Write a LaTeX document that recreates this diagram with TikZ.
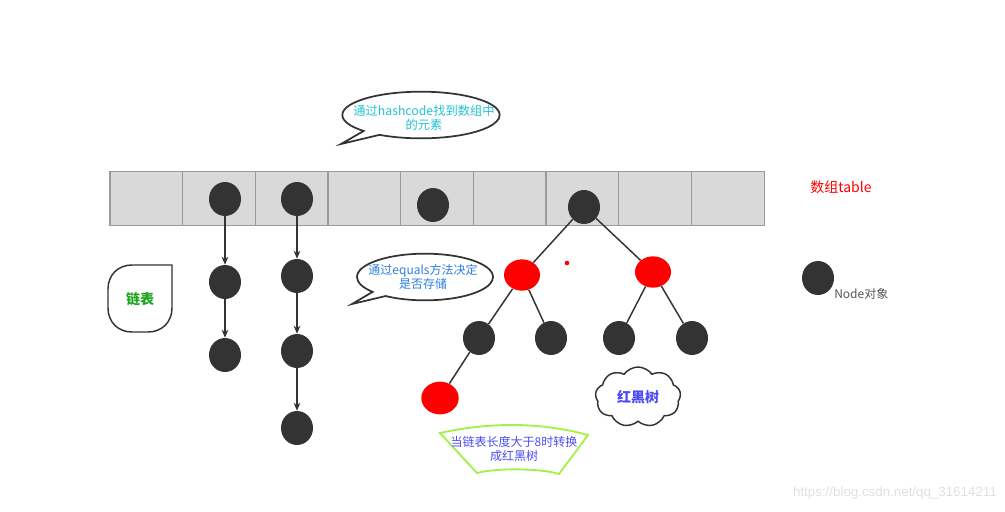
\documentclass[tikz,border=0pt]{standalone}
\usepackage{fontspec}
\newfontfamily\cjk{Noto Sans CJK SC}
\newfontfamily\wm{Liberation Sans}
\usetikzlibrary{shapes.geometric,shapes.callouts,shapes.symbols,arrows.meta}
\definecolor{ndgray}{HTML}{333333}
\definecolor{cellfill}{HTML}{D9D9D9}
\definecolor{cellline}{HTML}{9A9A9A}
\definecolor{cyantxt}{HTML}{22C3D2}
\definecolor{bluetxt}{HTML}{2F80E0}
\definecolor{greentxt}{HTML}{1FA51F}
\definecolor{violettxt}{HTML}{4B4BF5}
\definecolor{fangreen}{HTML}{A6F04A}
\definecolor{legtxt}{HTML}{555555}
\tikzset{
  blk/.style={ellipse, fill=ndgray, minimum width=24pt, minimum height=25.5pt, inner sep=0pt},
  rednd/.style={ellipse, fill=red, minimum width=27pt, minimum height=23.5pt, inner sep=0pt},
  cell/.style={rectangle, draw=cellline, fill=cellfill, line width=0.8pt, minimum width=54.5pt, minimum height=41pt, inner sep=0pt},
  chain/.style={draw=ndgray, line width=1.1pt, -{Stealth[length=6pt,width=5pt]}},
  edge/.style={draw=ndgray, line width=1.1pt},
  bubble/.style={ellipse callout, draw=ndgray, line width=1.3pt, fill=white, inner sep=0pt},
  btext/.style={font=\cjk\fontsize{9.2}{10.5}\selectfont, align=center, inner sep=0pt},
}
\begin{document}
\begin{tikzpicture}[x=0.75pt,y=-0.75pt]
\useasboundingbox (0,0) rectangle (1005,511);
% array
\foreach \i in {0,...,8}{
  \node[cell] (c\i) at ({110+72.67*\i+36.33},198.5) {};
}
% nodes in array
\node[blk] (a1) at (225,199) {};
\node[blk] (a2) at (297,199) {};
\node[blk] (a3) at (433,205) {};
\node[blk] (root) at (584,207) {};
% chain 1
\node[blk] (b1) at (225,282) {};
\node[blk] (b2) at (225,355) {};
% chain 2
\node[blk] (d1) at (297,276) {};
\node[blk] (d2) at (297,351) {};
\node[blk] (d3) at (297,428) {};
\draw[chain] (a1) -- (b1);
\draw[chain] (b1) -- (b2);
\draw[chain] (a2) -- (d1);
\draw[chain] (d1) -- (d2);
\draw[chain] (d2) -- (d3);
% tree
\node[rednd] (rl) at (522,275) {};
\node[rednd] (rr) at (653,272) {};
\node[blk] (t1) at (479,338) {};
\node[blk] (t2) at (551,338) {};
\node[blk] (t3) at (619,338) {};
\node[blk] (t4) at (692,338) {};
\node[rednd, minimum width=28pt, minimum height=24.5pt] (rb) at (440,398) {};
\draw[edge] (root) -- (rl);
\draw[edge] (root) -- (rr);
\draw[edge] (rl) -- (t1);
\draw[edge] (rl) -- (t2);
\draw[edge] (rr) -- (t3);
\draw[edge] (rr) -- (t4);
\draw[edge] (t1) -- (rb);
\node[circle, fill=red, inner sep=0pt, minimum size=3.5pt] (dot) at (567,263) {};
% bubbles
\coordinate (p1) at (341,144);
\node[bubble, minimum width=118pt, minimum height=35pt, callout absolute pointer={(p1)}] (bub1) at (421,115) {};
\node[btext, text=cyantxt] (bub1t) at (424,118) {通过hashcode找到数组中\\的元素};
\coordinate (p2) at (352,304);
\node[bubble, minimum width=102pt, minimum height=35pt, callout absolute pointer={(p2)}] (bub2) at (425,277) {};
\node[btext, font=\cjk\fontsize{9}{10.5}\selectfont, text=bluetxt] (bub2t) at (423,277) {通过equals方法决定\\是否存储};
% linked list label
\node[inner sep=0pt] (ll) at (140,299) {\cjk\bfseries\fontsize{10.5}{12}\selectfont\color{greentxt}链表};
\draw[draw=ndgray, line width=1.1pt] (172,265) -- (132,265)
  .. controls (118,265) and (108,275) .. (108,289)
  -- (108,308) .. controls (108,322) and (118,332) .. (132,332)
  -- (148,332) .. controls (162,332) and (172,322) .. (172,308) -- cycle;
% cloud
\node[cloud, cloud puffs=9, cloud puff arc=110, aspect=1.4, draw=ndgray, line width=1.1pt, minimum width=64pt, minimum height=45pt, inner sep=0pt] (cl) at (638,397) {};
\node[font=\cjk\bfseries\fontsize{10.5}{12}\selectfont, text=violettxt] (clt) at (638,397) {红黑树};
% fan shape
\draw[draw=fangreen, line width=1.4pt] (440,433) .. controls (490,422) and (540,422) .. (588,435)
  -- (559,474) .. controls (540,468) and (495,468) .. (477,473) -- cycle;
\node[btext, font=\cjk\fontsize{9}{10.5}\selectfont, text=violettxt] (fant) at (514,449) {当链表长度大于8时转换\\成红黑树};
% table label
\node[font=\cjk\fontsize{10.5}{12}\selectfont, text=red] (tbl) at (841,187) {数组table};
% legend
\node[blk] (leg) at (818,278) {};
\node[font=\cjk\fontsize{9}{10}\selectfont, text=legtxt, anchor=west, inner sep=0pt] (legt) at (834,294) {Node对象};
% watermark
\node[font=\wm\fontsize{10}{12}\selectfont, text=black!12, anchor=east, inner sep=0pt] (wm) at (997,493) {https://blog.csdn.net/qq\_31614211};
\end{tikzpicture}
\end{document}
